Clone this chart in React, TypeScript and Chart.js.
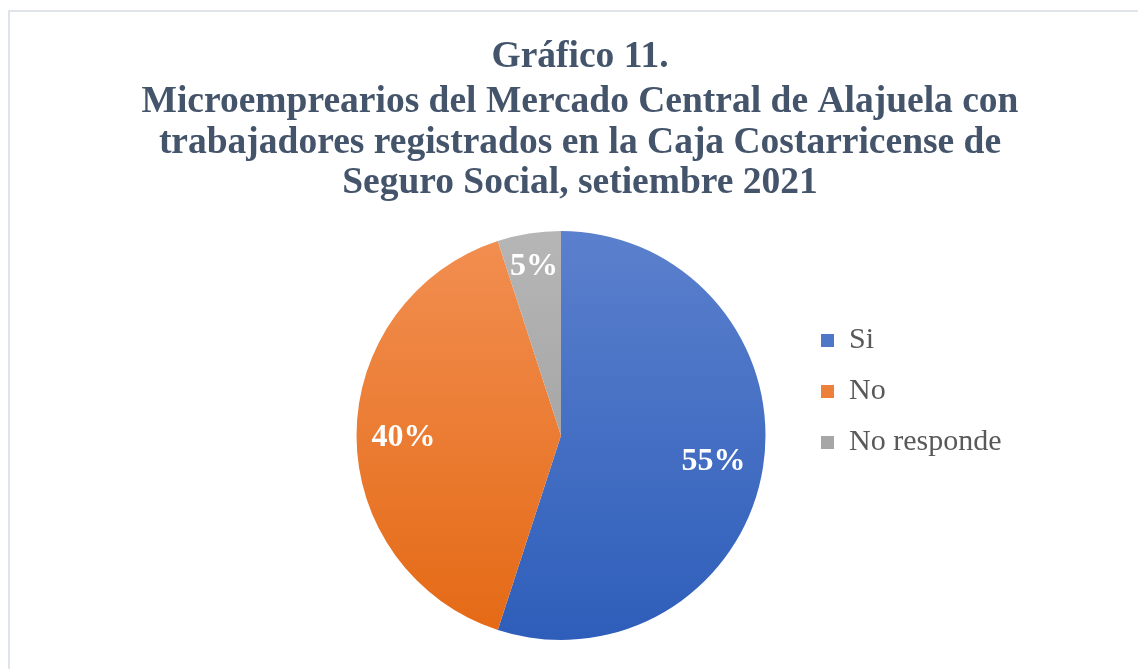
import React, { useEffect, useRef } from 'react';
import { Chart, registerables, layouts } from 'chart.js';

Chart.register(...registerables);

// ---- data ----
const CATEGORIES = ['Si', 'No', 'No responde'];
const PERCENTS = [55, 40, 5];
const TITLE_LINE = 'Gráfico 11.';
const SUBTITLE_LINES = [
  'Microemprearios del Mercado Central de Alajuela con',
  'trabajadores registrados en la Caja Costarricense de',
  'Seguro Social, setiembre 2021',
];

// ---- styles ----
const GRADIENT_TOP = ['#5b80cd', '#f28f52', '#b6b6b6'];
const GRADIENT_BOTTOM = ['#2e5eba', '#e46914', '#979797'];
const LABEL_RADIUS = [0.755, 0.77, 0.847];
const LABEL_SIZE = 32;
const TITLE_COLOR = '#44546a';
const LEGEND_COLOR = '#595959';
const SERIF = '"Liberation Serif", "Times New Roman", serif';
const LEGEND_LEFT = 800; // where the legend block should start
const LEFT_GUTTER = 300;

function makeSpacer(position: string, size: () => number, weight: number) {
  return {
    position,
    weight,
    fullSize: false,
    options: {},
    left: 0,
    top: 0,
    right: 0,
    bottom: 0,
    width: 0,
    height: 0,
    isHorizontal() {
      return false;
    },
    update(_maxWidth: number, maxHeight: number) {
      this.width = Math.max(size(), 0);
      this.height = maxHeight;
    },
    draw() {},
  };
}

const spacerPlugin = {
  id: 'sideSpacers',
  beforeInit(chart: any) {
    layouts.addBox(chart, makeSpacer('left', () => LEFT_GUTTER, 0) as any);
    layouts.addBox(
      chart,
      makeSpacer(
        'right',
        () => chart.width - LEGEND_LEFT - (chart.legend ? chart.legend.width : 0),
        2000
      ) as any
    );
  },
};

const percentLabels = {
  id: 'percentLabels',
  afterDatasetsDraw(chart: any) {
    const meta = chart.getDatasetMeta(0);
    const values = chart.data.datasets[0].data as number[];
    const c = chart.ctx as CanvasRenderingContext2D;
    c.save();
    c.font = `bold ${LABEL_SIZE}px ${SERIF}`;
    c.fillStyle = '#ffffff';
    c.textAlign = 'center';
    c.textBaseline = 'alphabetic';
    const halfCap = LABEL_SIZE * 0.33;
    meta.data.forEach((arc: any, i: number) => {
      const { x, y, startAngle, endAngle, outerRadius } = arc.getProps(
        ['x', 'y', 'startAngle', 'endAngle', 'outerRadius'],
        true
      );
      const mid = (startAngle + endAngle) / 2;
      const r = outerRadius * LABEL_RADIUS[i];
      c.fillText(`${values[i]}%`, x + Math.cos(mid) * r, y + Math.sin(mid) * r + halfCap);
    });
    c.restore();
  },
};

export default function App() {
  const canvasRef = useRef<HTMLCanvasElement | null>(null);

  useEffect(() => {
    const canvas = canvasRef.current;
    if (!canvas) return;
    const chart = new Chart(canvas, {
      type: 'pie',
      data: {
        labels: CATEGORIES,
        datasets: [
          {
            data: PERCENTS,
            borderWidth: 0,
            hoverOffset: 0,
            backgroundColor: (ctx: any) => {
              const i = ctx.dataIndex ?? 0;
              const area = ctx.chart.chartArea;
              if (!area) return GRADIENT_BOTTOM[i];
              const g = ctx.chart.ctx.createLinearGradient(0, area.top, 0, area.bottom);
              g.addColorStop(0, GRADIENT_TOP[i]);
              g.addColorStop(1, GRADIENT_BOTTOM[i]);
              return g;
            },
          },
        ],
      },
      options: {
        animation: false,
        responsive: false,
        devicePixelRatio: 1,
        layout: { padding: { left: 22, right: 0, top: 0, bottom: 29 } },
        plugins: {
          title: {
            display: true,
            text: TITLE_LINE,
            color: TITLE_COLOR,
            font: { family: SERIF, size: 37.5, weight: 'bold', lineHeight: '40.5px' },
            padding: { top: 37, bottom: 0 },
          },
          subtitle: {
            display: true,
            text: SUBTITLE_LINES,
            color: TITLE_COLOR,
            font: { family: SERIF, size: 37.5, weight: 'bold', lineHeight: '40.5px' },
            padding: { top: 5, bottom: 27 },
          },
          legend: {
            position: 'right',
            align: 'center',
            fullSize: true,
            maxWidth: 400,
            title: {
              display: true,
              text: '',
              font: { size: 10, lineHeight: 1.2 },
              padding: { top: 131, bottom: 0 },
            },
            labels: {
              boxWidth: 13,
              boxHeight: 13,
              padding: 21,
              color: LEGEND_COLOR,
              font: { family: SERIF, size: 30 },
            },
          },
          tooltip: { enabled: false },
        },
      } as any,
      plugins: [spacerPlugin, percentLabels],
    });
    return () => chart.destroy();
  }, []);

  return (
    <div
      style={{
        position: 'fixed',
        left: 0,
        top: 0,
        width: 1138,
        height: 669,
        overflow: 'hidden',
        background: '#ffffff',
      }}
    >
      <div
        style={{
          position: 'absolute',
          left: 8,
          top: 10,
          width: 1400,
          height: 900,
          border: '2px solid #dfe3ea',
        }}
      />
      <canvas
        ref={canvasRef}
        width={1138}
        height={669}
        style={{ position: 'absolute', left: 0, top: 0, width: 1138, height: 669 }}
      />
    </div>
  );
}
